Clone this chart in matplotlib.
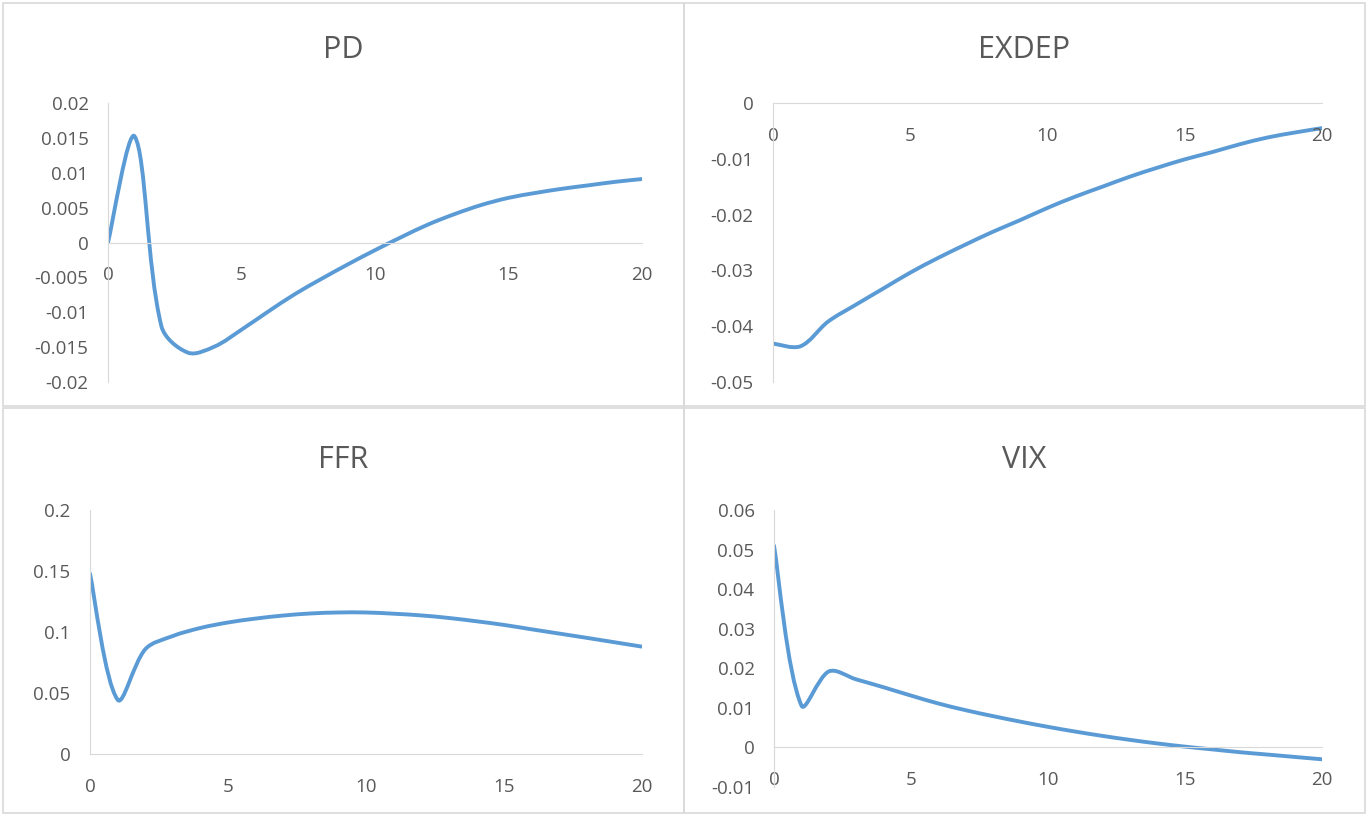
import numpy as np
import matplotlib.pyplot as plt
from matplotlib.path import Path
from matplotlib.patches import PathPatch, Rectangle
from matplotlib.ticker import FuncFormatter, MultipleLocator

plt.rcParams['font.family'] = ['Open Sans', 'DejaVu Sans']

# Impulse responses, periods 0..20
periods = list(range(21))
pd_resp = [0.0, 0.0152, -0.0120, -0.0158, -0.0149, -0.0125, -0.0099, -0.0074, -0.0052,
           -0.0031, -0.0011, 0.0008, 0.0026, 0.0041, 0.0054, 0.0064, 0.0071, 0.0077,
           0.0082, 0.0087, 0.0091]
exdep_resp = [-0.0431, -0.0436, -0.0392, -0.0362, -0.0333, -0.0304, -0.0278, -0.0254,
              -0.0231, -0.0210, -0.0188, -0.0168, -0.0150, -0.0132, -0.0116, -0.0101,
              -0.0088, -0.0074, -0.0062, -0.0053, -0.0045]
ffr_resp = [0.1478, 0.0445, 0.0858, 0.0967, 0.1033, 0.1078, 0.1110, 0.1135, 0.1152,
            0.1160, 0.1160, 0.1150, 0.1136, 0.1115, 0.1088, 0.1058, 0.1022, 0.0987,
            0.0952, 0.0916, 0.0880]
vix_resp = [0.0510, 0.0106, 0.0192, 0.0172, 0.0152, 0.0131, 0.0111, 0.0094, 0.0079,
            0.0065, 0.0052, 0.0040, 0.0029, 0.0019, 0.0010, 0.0002, -0.0005, -0.0012,
            -0.0018, -0.0024, -0.0030]

W, H = 1370, 816
line_color = '#5B9BD5'
text_color = '#595959'
axis_color = '#D9D9D9'


def smooth_path(x, y, sx, sy):
    # Bezier segments through every point; tangents weighted by the on-screen
    # length of the neighbouring segments so steep drops don't overshoot
    p = np.column_stack([np.asarray(x, float) * sx, np.asarray(y, float) * sy])
    n = len(p)
    out_c = np.zeros_like(p)
    in_c = np.zeros_like(p)
    for i in range(n):
        prev = p[max(i - 1, 0)]
        nxt = p[min(i + 1, n - 1)]
        d = nxt - prev
        lp = np.hypot(*(p[i] - prev))
        ln = np.hypot(*(nxt - p[i]))
        tot = lp + ln
        if i == 0 or i == n - 1:
            out_c[i] = p[i] + d / 6.0
            in_c[i] = p[i] - d / 6.0
        else:
            out_c[i] = p[i] + d * ln / tot / 3.0
            in_c[i] = p[i] - d * lp / tot / 3.0
    verts = [p[0]]
    codes = [Path.MOVETO]
    for i in range(n - 1):
        verts += [out_c[i], in_c[i + 1], p[i + 1]]
        codes += [Path.CURVE4] * 3
    verts = np.array(verts) / [sx, sy]
    return Path(verts, codes)


def fmt(v, pos):
    v = round(v, 6) + 0.0
    return f'{v:g}'


def panel(box, rect, title, title_y, values, ylim, ystep):
    # light border around each chart
    bx, by, bw, bh = box
    fig.patches.append(Rectangle((bx / W, 1 - (by + bh) / H), bw / W, bh / H,
                                 transform=fig.transFigure, fill=False,
                                 edgecolor=axis_color, linewidth=1.2))
    left, top, right, bottom = rect
    ax = fig.add_axes([left / W, 1 - bottom / H, (right - left) / W, (bottom - top) / H])
    sx = (right - left) / 20.0
    sy = (bottom - top) / (ylim[1] - ylim[0])
    ax.add_patch(PathPatch(smooth_path(periods, values, sx, sy), fill=False,
                           edgecolor=line_color, linewidth=2.8, capstyle='round'))
    ax.set_xlim(0, 20)
    ax.set_ylim(*ylim)
    ax.xaxis.set_major_locator(MultipleLocator(5))
    ax.yaxis.set_major_locator(MultipleLocator(ystep))
    ax.yaxis.set_major_formatter(FuncFormatter(fmt))
    for s in ['top', 'right']:
        ax.spines[s].set_visible(False)
    ax.spines['left'].set_color(axis_color)
    ax.spines['bottom'].set_color(axis_color)
    ax.spines['bottom'].set_position(('data', 0))
    ax.tick_params(length=0, labelsize=13.5, labelcolor=text_color)
    ax.tick_params(axis='x', pad=17)
    ax.tick_params(axis='y', pad=14)
    ax.patch.set_alpha(0)
    fig.text((bx + bw / 2) / W, 1 - title_y / H, title, ha='center', va='center',
             fontsize=22, color=text_color)
    return ax


fig = plt.figure(figsize=(W / 100, H / 100), dpi=100)

panel((3, 3, 681, 403), (108, 103, 642, 382), 'PD', 50, pd_resp, (-0.02, 0.02), 0.005)
panel((684, 3, 681, 403), (773, 103, 1322, 382), 'EXDEP', 50, exdep_resp, (-0.05, 0.0), 0.01)
panel((3, 408, 681, 405), (90, 510, 642, 754), 'FFR', 460, ffr_resp, (0.0, 0.2), 0.05)
panel((684, 408, 681, 405), (774, 510, 1322, 787), 'VIX', 460, vix_resp, (-0.01, 0.06), 0.01)

fig.savefig('out.png', dpi=100)
